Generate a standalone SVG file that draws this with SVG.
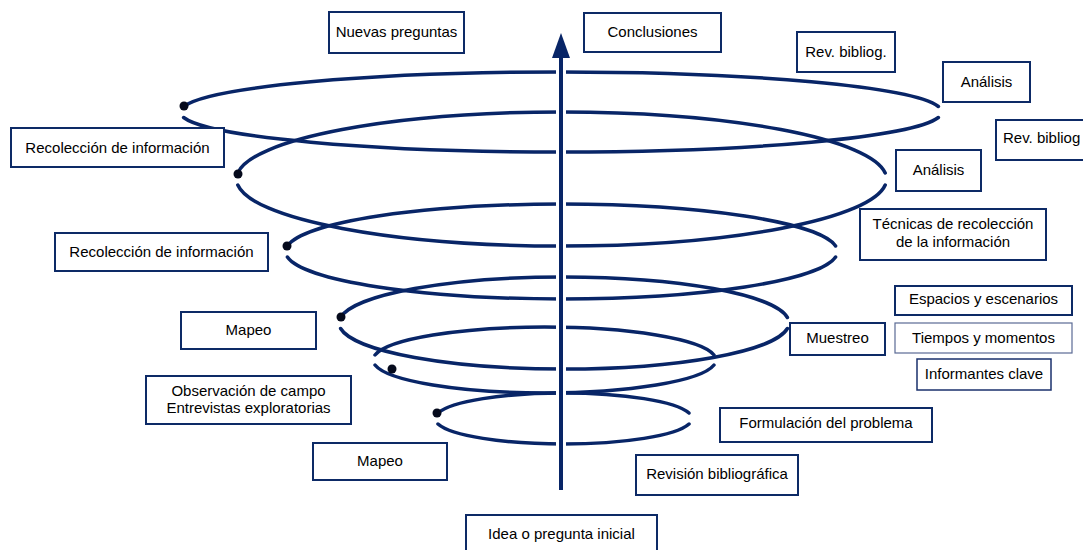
<svg xmlns="http://www.w3.org/2000/svg" width="1083" height="550" viewBox="0 0 1083 550">
<style>
.box{fill:#fff;stroke:#0d2a66;stroke-width:2}
.thin{fill:#fff;stroke:#5a6a94;stroke-width:1.2}
.mid{fill:#fff;stroke:#1a306c;stroke-width:1.5}
.t{font-family:"Liberation Sans",Arial,sans-serif;font-size:15px;fill:#000;text-anchor:middle}
.arc{fill:none;stroke:#082567;stroke-width:3.5;stroke-linecap:round}
.dot{fill:#050a1c}
</style>
<rect width="1083" height="550" fill="#fff"/>
<g id="connectors">
<path class="arc" d="M183.6 106.5 A381 40 0 0 1 938.4 106.5"/>
<path class="arc" d="M938.4 117.5 A381 40 0 0 1 183.6 117.5"/>
<path class="arc" d="M237.8 173 A325 67 0 0 1 885.2 173"/>
<path class="arc" d="M885.2 185 A325 67 0 0 1 237.8 185"/>
<path class="arc" d="M287.4 246 A276 47.5 0 0 1 835.6 246"/>
<path class="arc" d="M835.6 257 A276 47.5 0 0 1 287.4 257"/>
<path class="arc" d="M340.6 317.5 A225 46 0 0 1 787.4 317.5"/>
<path class="arc" d="M787.4 328.5 A225 46 0 0 1 340.6 328.5"/>
<path class="arc" d="M375 355 A171.5 33 0 0 1 714 355"/>
<path class="arc" d="M714 365 A171.5 33 0 0 1 375 365"/>
<path class="arc" d="M438 413 A128.5 25.5 0 0 1 689 413"/>
<path class="arc" d="M689 424 A128.5 25.5 0 0 1 438 424"/>
<line x1="561" y1="62" x2="561" y2="460" stroke="#fff" stroke-width="10"/>
<line x1="561" y1="490" x2="561" y2="56" stroke="#082567" stroke-width="4"/>
<polygon points="561,33 552,58 570,58" fill="#082567"/>
<circle class="dot" cx="184" cy="106" r="4.5"/>
<circle class="dot" cx="238" cy="174" r="4.5"/>
<circle class="dot" cx="287" cy="246" r="4.5"/>
<circle class="dot" cx="341" cy="317" r="4.5"/>
<circle class="dot" cx="392" cy="369" r="4.5"/>
<circle class="dot" cx="437" cy="413" r="4.5"/>
</g>
<g id="n-nuevas"><rect class="box" x="329" y="12" width="135" height="41"/><text class="t" x="396.5" y="37">Nuevas preguntas</text></g>
<g id="n-conclusiones"><rect class="box" x="584" y="13" width="137" height="39"/><text class="t" x="652.5" y="37">Conclusiones</text></g>
<g id="n-revbib1"><rect class="box" x="797" y="32" width="98" height="40"/><text class="t" x="846" y="57">Rev. bibliog.</text></g>
<g id="n-analisis1"><rect class="box" x="943" y="62" width="87" height="40"/><text class="t" x="986.5" y="87">Análisis</text></g>
<g id="n-revbib2"><rect class="box" x="996" y="120" width="100" height="40"/><text class="t" x="1003" y="143" style="text-anchor:start">Rev. bibliog</text></g>
<g id="n-recol1"><rect class="box" x="11" y="128" width="213" height="39"/><text class="t" x="117.5" y="153">Recolección de información</text></g>
<g id="n-analisis2"><rect class="box" x="896" y="150" width="85" height="41"/><text class="t" x="938.5" y="175">Análisis</text></g>
<g id="n-tecnicas"><rect class="box" x="860" y="209" width="186" height="51"/><text class="t" x="953" y="229">Técnicas de recolección</text><text class="t" x="953" y="247">de la información</text></g>
<g id="n-recol2"><rect class="box" x="55" y="233" width="213" height="38"/><text class="t" x="161.5" y="257">Recolección de información</text></g>
<g id="n-espacios"><rect class="box" x="895" y="286" width="177" height="29"/><text class="t" x="983.5" y="304">Espacios y escenarios</text></g>
<g id="n-muestreo"><rect class="box" x="790" y="323" width="95" height="32"/><text class="t" x="837.5" y="343">Muestreo</text></g>
<g id="n-tiempos"><rect class="thin" x="895" y="323" width="177" height="30"/><text class="t" x="983.5" y="343">Tiempos y momentos</text></g>
<g id="n-informantes"><rect class="mid" x="917" y="359" width="134" height="31"/><text class="t" x="984" y="379">Informantes clave</text></g>
<g id="n-mapeo1"><rect class="box" x="181" y="312" width="135" height="37"/><text class="t" x="248.5" y="335">Mapeo</text></g>
<g id="n-observacion"><rect class="box" x="146" y="376" width="205" height="48"/><text class="t" x="248.5" y="396">Observación de campo</text><text class="t" x="248.5" y="413">Entrevistas exploratorias</text></g>
<g id="n-mapeo2"><rect class="box" x="313" y="443" width="134" height="37"/><text class="t" x="380" y="466">Mapeo</text></g>
<g id="n-formulacion"><rect class="box" x="720" y="408" width="212" height="34"/><text class="t" x="826" y="428">Formulación del problema</text></g>
<g id="n-revision"><rect class="box" x="636" y="455" width="162" height="40"/><text class="t" x="717" y="479">Revisión bibliográfica</text></g>
<g id="n-idea"><rect class="box" x="466" y="515" width="191" height="40"/><text class="t" x="561.5" y="539">Idea o pregunta inicial</text></g>
</svg>
